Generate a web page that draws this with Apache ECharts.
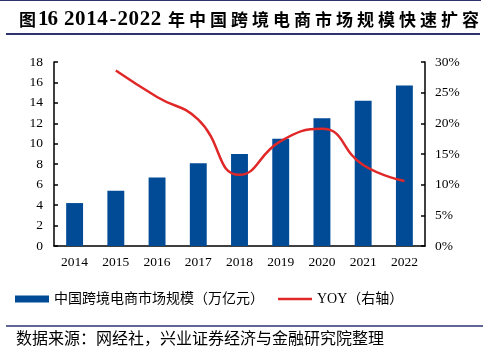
<!DOCTYPE html>
<html>
<head>
<meta charset="utf-8">
<script src="https://cdn.jsdelivr.net/npm/echarts@6/dist/echarts.min.js"></script>
<style>
  html, body { margin: 0; padding: 0; background: #fff; }
  #main { width: 483px; height: 352px; }
</style>
</head>
<body>
<div id="main"></div>
<script>
// 数据
const years = ['2014', '2015', '2016', '2017', '2018', '2019', '2020', '2021', '2022']
const scale = [4.2, 5.4, 6.7, 8.1, 9.0, 10.5, 12.5, 14.2, 15.7]
const yoy = [null, 28.6, 24.3, 20.6, 11.6, 17.1, 19.1, 13.2, 10.6]
const leftTicks = [0, 18, 2]
const rightTicks = [0, 30, 5]

const FONT = '"Liberation Serif", "Noto Sans CJK SC", serif'
const barName = '中国跨境电商市场规模（万亿元）'
const lineName = 'YOY（右轴）'

// 标题逐字排布（原图字距较宽）
const spread = (str, x0, step, font) => str.split('').map((ch, i) => ({
    type: 'text',
    x: x0 + i * step,
    y: 20,
    style: { text: ch, font: font, fill: '#000', textVerticalAlign: 'middle' }
}))
const latin = 'bold 21px "Liberation Serif"'
const cjk = 'bold 17px "Noto Sans CJK SC"'
const titleParts = [].concat(
    spread('图', 19, 21, cjk),
    spread('16', 38, 9.5, latin),
    spread('2014-2022', 64, 11.1, latin).map((t, i) => {
        // 连字符较窄，后面的数字往回收一点
        if (i === 4) t.x += 1
        if (i > 4) t.x -= 2
        return t
    }),
    spread('年中国跨境电商市场规模快速扩容', 168, 21, cjk)
)

const chart = echarts.init(document.getElementById('main'))
const option = {
    animation: false,
    textStyle: { fontFamily: FONT, color: '#000' },
    graphic: titleParts.concat([
        { type: 'line', shape: { x1: 0, y1: 0.5, x2: 481, y2: 0.5 }, style: { stroke: '#2e3370', lineWidth: 1 } },
        { type: 'line', shape: { x1: 6, y1: 34, x2: 480, y2: 34 }, style: { stroke: '#2e3370', lineWidth: 2 } },
        { type: 'line', shape: { x1: 6, y1: 326, x2: 483, y2: 326 }, style: { stroke: '#2e3370', lineWidth: 1.5 } },
        {
            type: 'text', left: 16, top: 330,
            style: { text: '数据来源：网经社，兴业证券经济与金融研究院整理', font: '16px "Noto Sans CJK SC"', fill: '#000' }
        }
    ]),
    legend: {
        left: 10,
        top: 287,
        itemGap: 14,
        itemWidth: 34,
        itemHeight: 7,
        textStyle: { fontFamily: FONT, fontSize: 14, color: '#000' },
        data: [
            { name: barName, icon: 'rect' },
            { name: lineName, icon: 'path://M0,0L34,0L34,2.5L0,2.5Z' }
        ]
    },
    grid: { left: 54, right: 58, top: 62, bottom: 106 },
    xAxis: {
        type: 'category',
        data: years,
        axisLine: { lineStyle: { color: '#000', width: 1.5 } },
        axisTick: { show: false },
        axisLabel: { color: '#000', fontSize: 13.5, fontFamily: FONT, margin: 10 }
    },
    yAxis: [
        {
            type: 'value',
            min: leftTicks[0], max: leftTicks[1], interval: leftTicks[2],
            splitLine: { show: false },
            axisLine: { show: true, lineStyle: { color: '#000', width: 1.5 } },
            axisTick: { show: true, inside: true, length: 4, lineStyle: { color: '#000', width: 1.5 } },
            axisLabel: { color: '#000', fontSize: 13.5, fontFamily: FONT, margin: 11 }
        },
        {
            type: 'value',
            min: rightTicks[0], max: rightTicks[1], interval: rightTicks[2],
            splitLine: { show: false },
            axisLine: { show: true, lineStyle: { color: '#000', width: 1.5 } },
            axisTick: { show: true, inside: true, length: 4, lineStyle: { color: '#000', width: 1.5 } },
            axisLabel: { color: '#000', fontSize: 13.5, fontFamily: FONT, margin: 10, formatter: '{value}%' }
        }
    ],
    series: [
        {
            name: barName,
            type: 'bar',
            data: scale,
            barWidth: '41%',
            itemStyle: { color: '#004a96' }
        },
        {
            name: lineName,
            type: 'line',
            yAxisIndex: 1,
            data: yoy,
            smooth: true,
            showSymbol: false,
            symbol: 'none',
            lineStyle: { color: '#e02828', width: 2.5 },
            itemStyle: { color: '#e02828' }
        }
    ]
}
chart.setOption(option)
</script>
</body>
</html>
